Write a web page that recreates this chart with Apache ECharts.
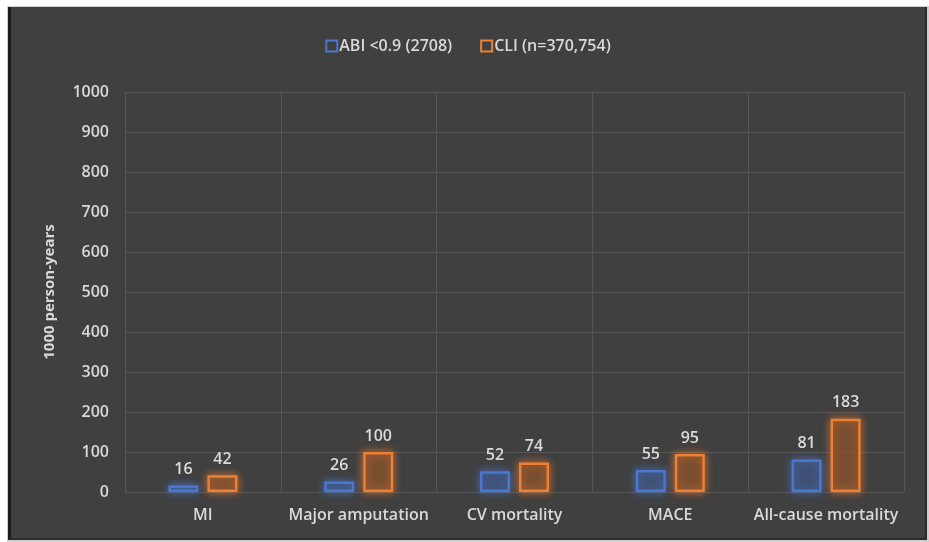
<!DOCTYPE html>
<html>
<head>
<meta charset="utf-8">
<script src="https://cdn.jsdelivr.net/npm/echarts@6/dist/echarts.min.js"></script>
<style>
  html, body { margin: 0; padding: 0; background: #ffffff; }
  #frame {
    position: absolute; left: 7px; top: 6px; width: 922px; height: 536px;
    background: #cfcfcf;
  }
  #chart {
    position: absolute; left: 8px; top: 7px; width: 919px; height: 533px;
    background: #404040;
    border-left: 3px solid #1c1c1c;
    border-right: 2px solid #2a2a2a;
    border-bottom: 2px solid #2a2a2a;
    box-sizing: border-box;
  }
</style>
</head>
<body>
<div id="frame"></div>
<div id="chart"></div>
<script>
const categories = ['MI', 'Major amputation', 'CV mortality', 'MACE', 'All-cause mortality'];
const abiValues = [16, 26, 52, 55, 81];
const cliValues = [42, 100, 74, 95, 183];
const seriesNames = ['ABI <0.9 (2708)', 'CLI (n=370,754)'];
const yTicks = { min: 0, max: 1000, interval: 100 };

const textColor = '#d9d9d9';
const fontFamily = '"Open Sans", "Noto Sans", sans-serif';

const chart = echarts.init(document.getElementById('chart'), null, { renderer: 'canvas' });

function barSeries(name, values, color, fill) {
  return {
    name: name,
    type: 'bar',
    data: values,
    barWidth: 30,
    barGap: '30%',
    itemStyle: {
      color: fill,
      borderColor: color,
      borderWidth: 2.5,
      shadowBlur: 8,
      shadowColor: color
    },
    label: {
      show: true,
      position: 'top',
      distance: 8,
      color: textColor,
      fontFamily: fontFamily,
      fontWeight: 600,
      fontSize: 16
    }
  };
}

chart.setOption({
  backgroundColor: 'transparent',
  animation: false,
  legend: {
    top: 26,
    left: 'center',
    itemWidth: 11,
    itemHeight: 11,
    itemGap: 28,
    icon: 'rect',
    textStyle: { color: textColor, fontFamily: fontFamily, fontWeight: 600, fontSize: 16, padding: [0, 0, 0, -3] },
    data: [
      { name: seriesNames[0], itemStyle: { color: 'rgba(0,0,0,0)', borderColor: '#4a78d0', borderWidth: 2 } },
      { name: seriesNames[1], itemStyle: { color: 'rgba(0,0,0,0)', borderColor: '#ee7f33', borderWidth: 2 } }
    ]
  },
  grid: { left: 114, right: 21, top: 85, bottom: 46 },
  xAxis: {
    type: 'category',
    data: categories,
    axisLine: { show: false },
    axisTick: { show: false },
    splitLine: { show: true, interval: 0, lineStyle: { color: '#575757', width: 1 } },
    axisLabel: {
      interval: 0,
      color: textColor, fontFamily: fontFamily, fontWeight: 600, fontSize: 16, margin: 15
    }
  },
  yAxis: {
    type: 'value',
    min: yTicks.min,
    max: yTicks.max,
    interval: yTicks.interval,
    name: '1000 person-years',
    nameLocation: 'middle',
    nameRotate: 90,
    nameGap: 68,
    nameTextStyle: { color: textColor, fontFamily: fontFamily, fontWeight: 700, fontSize: 15 },
    axisLine: { show: false },
    axisTick: { show: false },
    splitLine: { lineStyle: { color: '#575757', width: 1 } },
    axisLabel: {
      color: textColor, fontFamily: fontFamily, fontWeight: 600, fontSize: 16, margin: 16,
      formatter: function (v) { return String(v); }
    }
  },
  series: [
    barSeries(seriesNames[0], abiValues, '#4a78d0', 'rgba(60,70,95,0.55)'),
    barSeries(seriesNames[1], cliValues, '#ee7f33', 'rgba(90,60,40,0.55)')
  ]
});
</script>
</body>
</html>
